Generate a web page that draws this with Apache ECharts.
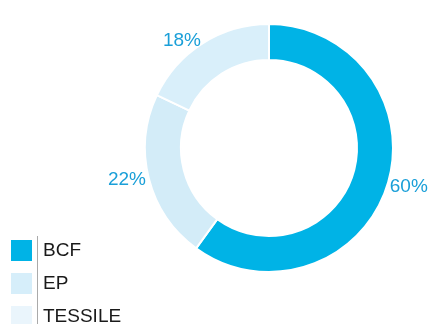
<!DOCTYPE html>
<html>
<head>
<meta charset="utf-8">
<script src="https://cdn.jsdelivr.net/npm/echarts@6/dist/echarts.min.js"></script>
<style>
  html, body { margin: 0; padding: 0; background: #fff; }
  #chart { width: 430px; height: 324px; }
</style>
</head>
<body>
<div id="chart"></div>
<script>
// Fibre share by product line
const categories = ['BCF', 'EP', 'TESSILE'];
const shares = [60, 22, 18];
const sliceColors = ['#00B3E6', '#D3ECF8', '#D9EFFA'];
const legendColors = ['#00B3E6', '#D6EEFA', '#EAF5FC'];

const chart = echarts.init(document.getElementById('chart'));

chart.setOption({
  animation: false,
  legend: {
    orient: 'vertical',
    left: 9,
    top: 238,
    height: 120,
    padding: 0,
    itemWidth: 23,
    itemHeight: 23,
    itemGap: 8,
    icon: 'rect',
    selectedMode: false,
    textStyle: {
      fontFamily: 'Liberation Sans, Arial, sans-serif',
      fontSize: 19,
      color: '#1a1a1a',
      padding: [0, 0, 0, 5]
    },
    data: categories.map((name, i) => ({
      name: name,
      itemStyle: { color: legendColors[i] }
    }))
  },
  graphic: [{
    type: 'line',
    shape: { x1: 37.5, y1: 236, x2: 37.5, y2: 324 },
    style: { stroke: '#aaaaaa', lineWidth: 1 }
  }],
  series: [{
    type: 'pie',
    center: [269, 148],
    radius: [88, 124],
    startAngle: 90,
    clockwise: true,
    avoidLabelOverlap: false,
    itemStyle: { borderColor: '#ffffff', borderWidth: 2 },
    label: {
      show: true,
      position: 'outside',
      formatter: '{c}%',
      color: '#1A9FD8',
      fontFamily: 'Liberation Sans, Arial, sans-serif',
      fontSize: 19,
      distanceToLabelLine: 0
    },
    labelLine: { show: false, length: 3, length2: 0 },
    emphasis: { disabled: true },
    data: categories.map((name, i) => ({
      name: name,
      value: shares[i],
      itemStyle: { color: sliceColors[i] }
    }))
  }]
});
</script>
</body>
</html>
